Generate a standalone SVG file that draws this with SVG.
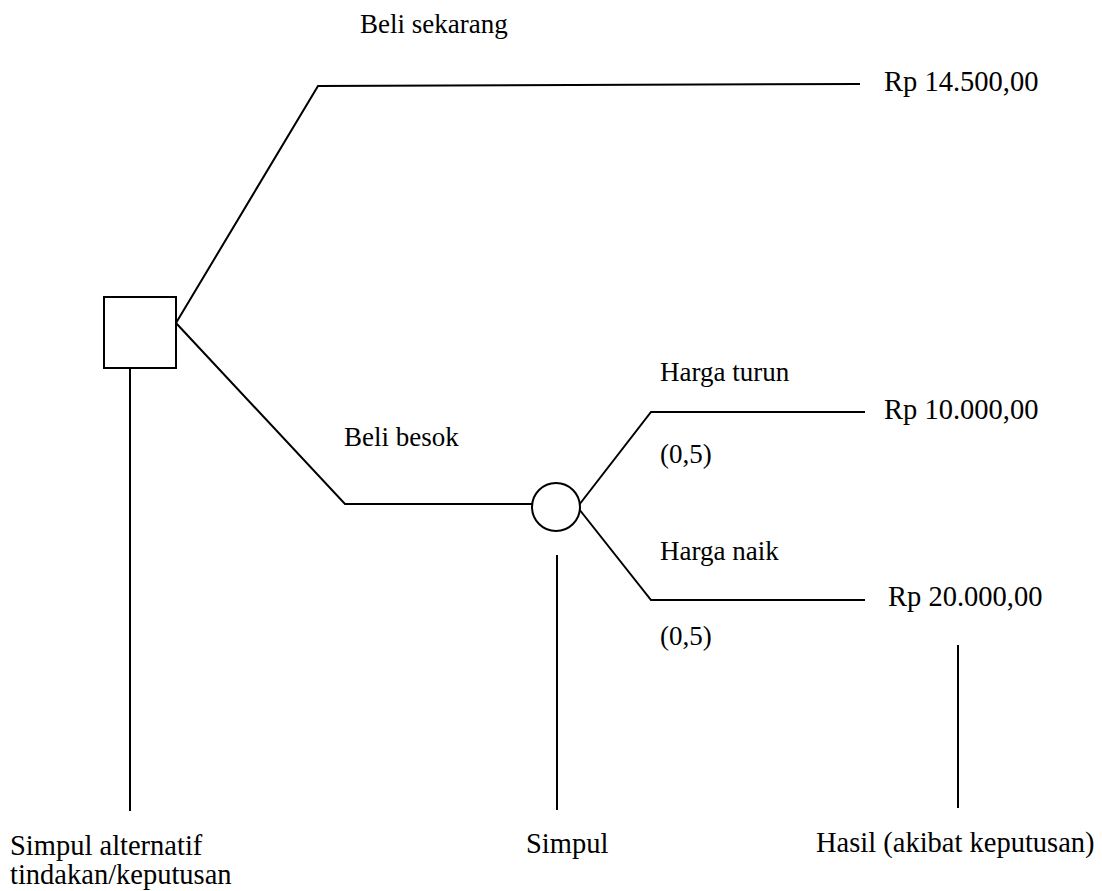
<svg xmlns="http://www.w3.org/2000/svg" width="1102" height="891" viewBox="0 0 1102 891">
<style>
.ln{stroke:#000;stroke-width:2;fill:none}
.nd{stroke:#000;stroke-width:2;fill:#fff}
text{font-family:"Liberation Serif","Times New Roman",serif;font-size:27px;fill:#000}
.big{font-size:28.5px}
</style>
<rect width="1102" height="891" fill="#fff"/>
<g id="connectors">
<polyline class="ln" points="176,323 318,86 860,84"/>
<polyline class="ln" points="176,323 345,504 532,504"/>
<polyline class="ln" points="579,505 651,412 865,412"/>
<polyline class="ln" points="579,509 651,600 865,600"/>
<line class="ln" x1="130" y1="368" x2="130" y2="811"/>
<line class="ln" x1="557" y1="555" x2="557" y2="810"/>
<line class="ln" x1="958" y1="645" x2="958" y2="808"/>
</g>
<g id="decision"><rect class="nd" x="104" y="297" width="72" height="71"/></g>
<g id="chance"><circle class="nd" cx="556" cy="507" r="24"/></g>
<g id="labels">
<text x="360" y="33">Beli sekarang</text>
<text class="big" x="884" y="91">Rp 14.500,00</text>
<text x="660" y="381">Harga turun</text>
<text class="big" x="884" y="419">Rp 10.000,00</text>
<text x="660" y="463">(0,5)</text>
<text x="344" y="446">Beli besok</text>
<text x="660" y="560">Harga naik</text>
<text class="big" x="888" y="606">Rp 20.000,00</text>
<text x="660" y="645">(0,5)</text>
<text class="big" x="10" y="855">Simpul alternatif</text>
<text class="big" x="10" y="884">tindakan/keputusan</text>
<text class="big" x="526" y="853">Simpul</text>
<text class="big" x="816" y="852">Hasil (akibat keputusan)</text>
</g>
</svg>
